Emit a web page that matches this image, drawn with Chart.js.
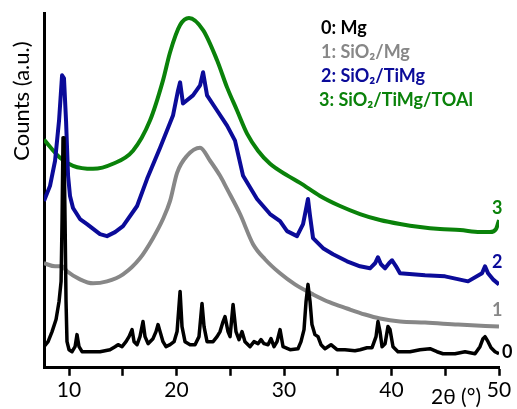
<!DOCTYPE html>
<html>
<head>
<meta charset="utf-8">
<script src="https://cdn.jsdelivr.net/npm/chart.js@4.4.0/dist/chart.umd.min.js"></script>
<style>
  html, body { margin: 0; padding: 0; background: #fff; }
  #wrap { width: 517px; height: 409px; }
</style>
</head>
<body>
<div id="wrap"><canvas id="xrd"></canvas></div>
<script>
// series names and colours
var names = ["0: Mg", "1: SiO\u2082/Mg", "2: SiO\u2082/TiMg", "3: SiO\u2082/TiMg/TOAl"];
var tags = ["0", "1", "2", "3"];
var colors = ["#000000", "#878787", "#0b0b99", "#0a820a"];
var xTicks = [10, 15, 20, 25, 30, 35, 40, 45, 50];

// 0: Mg
var mgX = [7.67, 8.05, 8.42, 8.79, 9.07, 9.26, 9.35, 9.44, 9.53, 9.63, 9.72, 9.81, 10.00, 10.28, 10.56, 10.74, 10.93, 11.21, 11.95, 12.88,
  13.81, 14.28, 14.56, 14.93, 15.30, 15.58, 15.86, 16.05, 16.33, 16.60, 16.88, 17.07, 17.35, 17.81, 18.09, 18.28, 18.47, 18.74, 19.02, 19.40,
  19.77, 20.05, 20.33, 20.51, 20.79, 21.26, 21.72, 22.09, 22.37, 22.56, 22.84, 23.40, 23.77, 24.05, 24.33, 24.51, 24.79, 24.98, 25.26, 25.53,
  25.81, 26.09, 26.37, 26.84, 27.21, 27.58, 27.86, 28.14, 28.51, 28.79, 29.07, 29.35, 29.63, 29.91, 30.56, 31.30, 31.58, 31.86, 32.05, 32.23,
  32.42, 32.60, 32.88, 33.16, 33.44, 33.81, 34.37, 34.93, 35.67, 36.60, 37.07, 37.72, 38.19, 38.56, 38.74, 38.93, 39.12, 39.40, 39.67, 39.86,
  40.14, 40.60, 41.72, 42.65, 43.58, 44.23, 44.79, 45.91, 46.84, 47.77, 48.23, 48.51, 48.70, 48.98, 49.26, 49.63, 50.00];
var mgY = [21, 26, 36, 48, 66, 86, 146, 229, 226, 146, 66, 26, 18, 16, 21, 33, 21, 16, 16, 16,
  18, 21, 23, 21, 26, 31, 38, 26, 23, 31, 46, 31, 24, 29, 36, 43, 36, 26, 21, 23,
  26, 36, 76, 41, 26, 23, 23, 31, 64, 41, 26, 26, 31, 36, 46, 51, 36, 31, 63, 36,
  28, 36, 26, 21, 26, 24, 28, 24, 23, 29, 21, 26, 38, 21, 18, 19, 26, 38, 66, 83,
  66, 43, 33, 31, 23, 19, 23, 18, 18, 17, 18, 20, 20, 31, 46, 36, 21, 24, 41, 38,
  21, 16, 16, 18, 19, 16, 14, 14, 16, 14, 21, 29, 31, 26, 20, 16, 14];

// 1: SiO2/Mg
var sioMgX = [7.67, 8.70, 9.35, 9.81, 11.02, 12.23, 13.53, 15.02, 16.60, 17.81, 18.74, 19.40, 20.05, 20.98, 22.19, 23.12,
  24.05, 24.70, 25.91, 27.12, 28.23, 29.63, 31.02, 32.70, 34.28, 35.86, 37.53, 38.93, 40.79, 43.12, 46.19, 50.00];
var sioMgY = [104, 101, 101, 96, 88, 84, 86, 93, 109, 129, 148, 166, 194, 211, 219, 206,
  191, 178, 153, 123, 108, 94, 83, 73, 65, 59, 53, 49, 46, 45, 43, 41];

// 2: SiO2/TiMg
var tiMgX = [7.67, 8.23, 8.70, 9.07, 9.35, 9.53, 9.72, 9.91, 10.09, 10.37, 11.02, 11.67, 12.88, 13.53, 14.28, 15.02, 16.33, 17.26,
  18.47, 19.67, 20.14, 20.33, 20.60, 21.53, 22.19, 22.47, 22.84, 23.77, 24.70, 25.44, 26.19, 27.49, 28.70, 29.63, 30.28, 31.21,
  31.77, 32.05, 32.23, 32.42, 32.70, 33.63, 34.56, 35.86, 37.07, 38.00, 38.47, 38.74, 39.02, 39.40, 39.77, 40.05, 40.42, 40.79,
  43.12, 44.98, 47.12, 48.42, 48.70, 48.98, 49.44, 50.00];
var tiMgY = [166, 181, 206, 246, 291, 288, 246, 191, 171, 159, 148, 143, 133, 131, 135, 141, 161, 188,
  219, 251, 276, 284, 263, 271, 281, 294, 271, 256, 241, 226, 191, 168, 153, 146, 136, 131,
  143, 158, 168, 151, 129, 119, 113, 106, 101, 99, 104, 110, 103, 99, 104, 107, 101, 94,
  92, 91, 86, 94, 101, 94, 88, 83];

// 3: SiO2/TiMg/TOAl
var toalX = [7.67, 9.16, 10.37, 12.23, 14.09, 15.95, 17.53, 18.74, 19.40, 20.33, 21.16, 22.47, 23.77, 24.70, 25.63, 26.56,
  27.58, 28.70, 30.37, 31.49, 33.35, 35.21, 37.07, 38.93, 40.79, 42.65, 44.51, 46.37, 48.23, 49.16, 49.72, 50.00];
var toalY = [227, 209, 201, 198, 203, 216, 246, 286, 314, 341, 348, 336, 306, 279, 256, 233,
  216, 203, 191, 184, 171, 161, 153, 147, 143, 140, 138, 137, 135, 135, 138, 147];

function pts(xs, ys) {
  return xs.map(function (x, i) { return { x: x, y: ys[i] }; });
}

var seriesX = [mgX, sioMgX, tiMgX, toalX];
var seriesY = [mgY, sioMgY, tiMgY, toalY];
var smooth = [false, true, false, true];

var datasets = [];
for (var i = 0; i < 4; i++) {
  datasets.push({
    label: names[i],
    data: pts(seriesX[i], seriesY[i]),
    borderColor: colors[i],
    borderWidth: i == 0 ? 3.5 : 4,
    borderJoinStyle: "round",
    pointRadius: 0,
    fill: false,
    cubicInterpolationMode: smooth[i] ? "monotone" : "default",
    tension: 0
  });
}

var FONT = "Lato, 'Noto Sans', sans-serif";

// texts drawn on top: axis titles, legend, curve numbers
var decor = {
  id: "decor",
  afterDraw: function (chart) {
    var ctx = chart.ctx;
    ctx.save();
    ctx.textBaseline = "middle";

    ctx.fillStyle = "#000";
    ctx.font = "22px " + FONT;
    ctx.save();
    ctx.translate(22, 101);
    ctx.rotate(-Math.PI / 2);
    ctx.textAlign = "center";
    ctx.fillText("Counts (a.u.)", 0, 0);
    ctx.restore();

    ctx.font = "21px " + FONT;
    ctx.textAlign = "right";
    ctx.fillText("2\u03b8 (\u00b0)", 481, 397);

    ctx.textAlign = "left";
    ctx.font = "bold 18px " + FONT;
    for (var i = 0; i < names.length; i++) {
      ctx.fillStyle = colors[i];
      ctx.fillText(names[i], i == 3 ? 319 : 321, 28 + i * 24);
    }

    var tagX = [502, 492, 492, 492];
    var tagY = [352, 310, 262, 208];
    ctx.font = "bold 18px " + FONT;
    for (var j = 0; j < tags.length; j++) {
      ctx.fillStyle = colors[j];
      ctx.fillText(tags[j], tagX[j], tagY[j]);
    }
    ctx.restore();
  }
};

new Chart(document.getElementById("xrd"), {
  type: "line",
  data: { datasets: datasets },
  options: {
    responsive: true,
    maintainAspectRatio: false,
    animation: false,
    layout: { padding: { left: 44, top: 13, right: 18, bottom: 4 } },
    plugins: { legend: { display: false }, tooltip: { enabled: false } },
    scales: {
      x: {
        type: "linear",
        min: 7.67,
        max: 50,
        afterBuildTicks: function (scale) {
          scale.ticks = xTicks.map(function (v) { return { value: v }; });
        },
        ticks: {
          autoSkip: false,
          maxRotation: 0,
          color: "#000",
          padding: 2,
          font: { family: FONT, size: 21 },
          callback: function (v) { return v % 10 === 0 ? String(v) : ""; }
        },
        grid: {
          drawOnChartArea: false,
          drawTicks: true,
          tickLength: 8,
          tickColor: "#000",
          tickWidth: 2.5
        },
        border: { display: true, color: "#000", width: 3 }
      },
      y: {
        min: 0,
        max: 353,
        ticks: { display: false },
        grid: { display: false, drawTicks: false },
        border: { display: true, color: "#000", width: 3 }
      }
    }
  },
  plugins: [decor]
});
</script>
</body>
</html>
